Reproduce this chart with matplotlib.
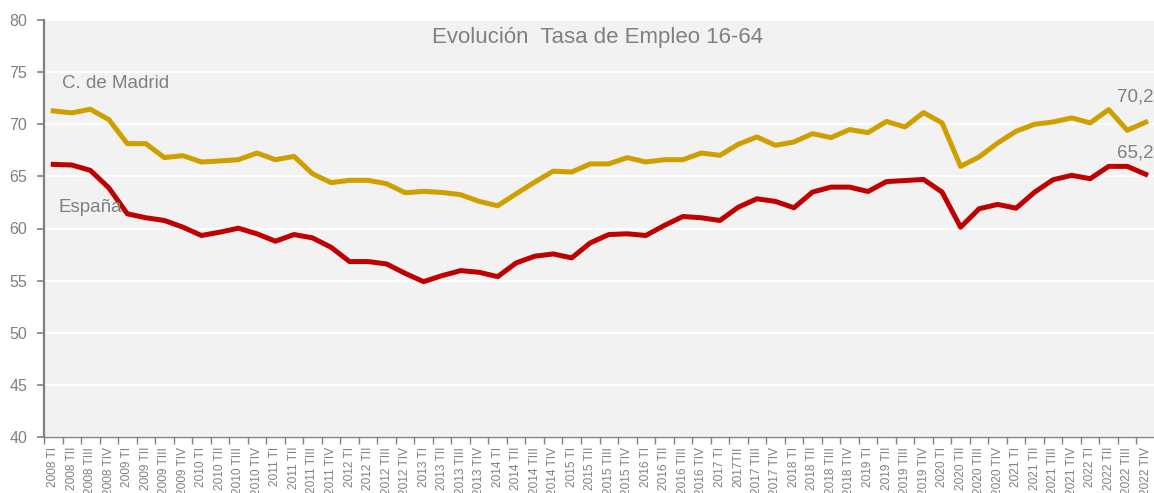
import matplotlib
matplotlib.use("Agg")
import matplotlib.pyplot as plt

plt.rcParams['font.family'] = ['Liberation Sans', 'DejaVu Sans']

years = list(range(2008, 2023))
quarters = ["TI", "TII", "TIII", "TIV"]
labels = [f"{y} {q}" for y in years for q in quarters]
labels[labels.index("2017 TII")] = "2017TII"

madrid = [71.28, 71.09, 71.44, 70.45,
          68.14, 68.14, 66.80, 66.99,
          66.38, 66.48, 66.60, 67.24,
          66.60, 66.92, 65.26, 64.40,
          64.62, 64.62, 64.30, 63.43,
          63.56, 63.46, 63.24, 62.60,
          62.18, 63.33, 64.45, 65.50,
          65.42, 66.20, 66.20, 66.80,
          66.38, 66.60, 66.60, 67.24,
          67.02, 68.08, 68.78, 67.98,
          68.30, 69.10, 68.72, 69.49,
          69.20, 70.27, 69.74, 71.12,
          70.13, 65.96, 66.86, 68.20,
          69.33, 70.00, 70.22, 70.61,
          70.13, 71.41, 69.42, 70.20]

espana = [66.15, 66.09, 65.58, 63.90,
          61.41, 61.03, 60.77, 60.13,
          59.33, 59.65, 60.03, 59.49,
          58.78, 59.42, 59.10, 58.20,
          56.83, 56.83, 56.60, 55.70,
          54.90, 55.48, 55.96, 55.80,
          55.38, 56.70, 57.34, 57.56,
          57.18, 58.62, 59.42, 59.49,
          59.33, 60.29, 61.15, 61.03,
          60.77, 62.05, 62.85, 62.60,
          61.99, 63.49, 63.97, 63.97,
          63.55, 64.50, 64.60, 64.71,
          63.49, 60.13, 61.89, 62.31,
          61.95, 63.49, 64.68, 65.10,
          64.78, 65.96, 65.96, 65.20]

title = "Evolución  Tasa de Empleo 16-64"
series_names = ["C. de Madrid", "España"]
colors = ["#CF9F00", "#C00000"]
gray = "#808080"

W, H = 1154, 493
fig = plt.figure(figsize=(W / 100, H / 100), dpi=100)
ax = fig.add_axes([44 / W, 56 / H, 1111 / W, 417 / H])
ax.set_facecolor("#F2F2F2")

x = list(range(len(labels)))
ax.plot(x, madrid, color=colors[0], lw=3.6, solid_joinstyle="round", zorder=3)
ax.plot(x, espana, color=colors[1], lw=3.6, solid_joinstyle="round", zorder=3)

ax.set_xlim(-0.5, len(labels) - 0.5)
ax.set_ylim(40, 80)
ax.set_yticks(range(40, 81, 5))
ax.grid(axis="y", color="white", lw=1.4, zorder=1)
ax.set_axisbelow(True)

ax.set_xticks(x)
ax.set_xticklabels(labels, rotation=90, fontsize=8.6, color=gray)
ax.set_xticks([i - 0.5 for i in range(len(labels) + 1)], minor=True)
ax.tick_params(axis="x", which="major", length=0, pad=7)
ax.tick_params(axis="x", which="minor", length=5, color=gray, width=1)
ax.tick_params(axis="y", length=5, color=gray, width=1.2, labelsize=11.5,
               labelcolor=gray, pad=7)

for s in ["top", "right"]:
    ax.spines[s].set_visible(False)
ax.spines["left"].set_color(gray)
ax.spines["left"].set_linewidth(1.6)
ax.spines["bottom"].set_color(gray)
ax.spines["bottom"].set_linewidth(1.0)

ax.text(0.4987, 0.957, title, transform=ax.transAxes, ha="center", va="center",
        fontsize=16, color=gray)
ax.text(0.47, 73.94, series_names[0], ha="left", va="center", fontsize=13.5, color=gray)
ax.text(0.26, 62.02, series_names[1], ha="left", va="center", fontsize=13.5, color=gray)

for vals, dy in [(madrid, 18), (espana, 15)]:
    ax.annotate(f"{vals[-1]:.1f}".replace(".", ","), xy=(x[-1], vals[-1]),
                xytext=(-21, dy), textcoords="offset points", ha="left", va="center",
                fontsize=13.5, color=gray, annotation_clip=False)

fig.savefig("out.png", dpi=100, facecolor="white")
